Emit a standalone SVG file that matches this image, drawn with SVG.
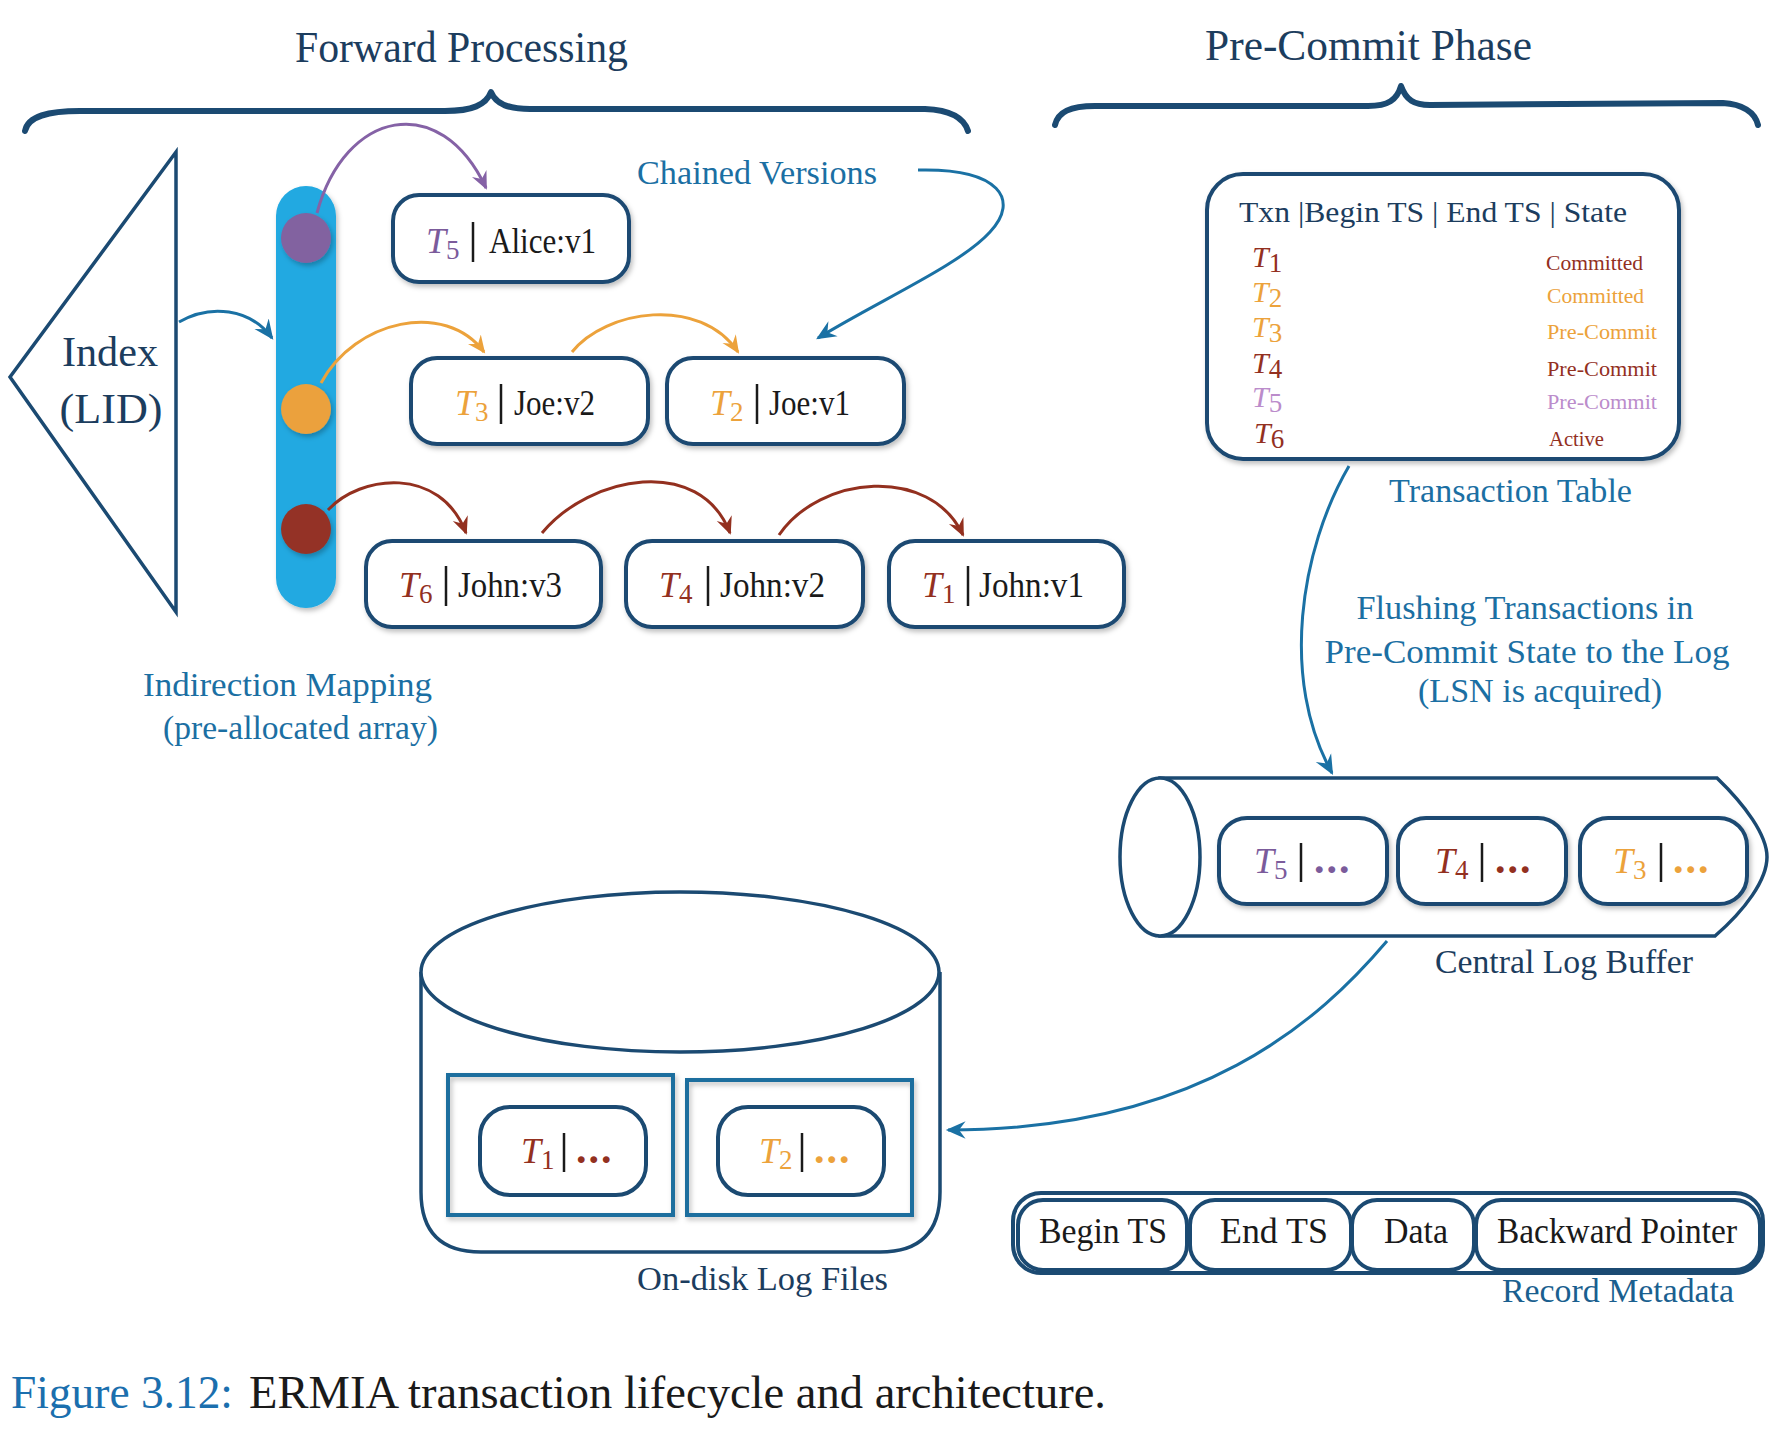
<svg xmlns="http://www.w3.org/2000/svg" width="1782" height="1432" viewBox="0 0 1782 1432">
<defs>
<style>
.serif{font-family:"Liberation Serif","DejaVu Serif",serif}
.box{fill:#fff;stroke:#1b4a72;stroke-width:4}
.thin{fill:#fff;stroke:#1b4a72;stroke-width:3.5}
.sq{fill:none;stroke:#1f6e9e;stroke-width:4}
.bar{stroke:#1a1a1a;stroke-width:2.5}
.lab{font-family:"Liberation Serif","DejaVu Serif",serif;font-size:35px;fill:#1a1a1a}
.ti{font-family:"Liberation Serif","DejaVu Serif",serif;font-size:36px;font-style:italic}
.sub{font-family:"Liberation Serif","DejaVu Serif",serif;font-size:27px}
.dots{font-family:"Liberation Serif","DejaVu Serif",serif;font-size:42px;font-weight:bold;letter-spacing:2px}
.teal{fill:#1b6fa3}
.navy{fill:#1c3d5e}
.title{font-family:"Liberation Serif","DejaVu Serif",serif;font-size:44px;fill:#1c3d5e}
.cap{font-family:"Liberation Serif","DejaVu Serif",serif;font-size:34px}
.brace{fill:none;stroke:#1b4a72;stroke-width:6;stroke-linecap:round;stroke-linejoin:round}
.conn{fill:none;stroke-width:3}
</style>
<filter id="sh" x="-20%" y="-20%" width="140%" height="150%"><feDropShadow dx="2" dy="3" stdDeviation="2.5" flood-color="#000" flood-opacity="0.25"/></filter>
<marker id="aP" viewBox="0 0 20 20" refX="16" refY="10" markerWidth="20" markerHeight="20" markerUnits="userSpaceOnUse" orient="auto"><path d="M0,2 L18,10 L0,18 L6,10 Z" fill="#8562a6"/></marker>
<marker id="aO" viewBox="0 0 20 20" refX="16" refY="10" markerWidth="20" markerHeight="20" markerUnits="userSpaceOnUse" orient="auto"><path d="M0,2 L18,10 L0,18 L6,10 Z" fill="#eca23b"/></marker>
<marker id="aR" viewBox="0 0 20 20" refX="16" refY="10" markerWidth="20" markerHeight="20" markerUnits="userSpaceOnUse" orient="auto"><path d="M0,2 L18,10 L0,18 L6,10 Z" fill="#93301f"/></marker>
<marker id="aB" viewBox="0 0 20 20" refX="16" refY="10" markerWidth="22" markerHeight="22" markerUnits="userSpaceOnUse" orient="auto"><path d="M0,2 L18,10 L0,18 L6,10 Z" fill="#1a71a4"/></marker>
</defs>
<rect width="1782" height="1432" fill="#fff"/>

<!-- Titles and braces -->
<g id="forward-processing">
<text class="title" x="295" y="62" textLength="333" lengthAdjust="spacingAndGlyphs">Forward Processing</text>
<path class="brace" d="M25,131 C28,116 48,111 80,111 L445,111 C472,111 486,105 491,92 C496,105 510,109 530,109 L925,109 C950,110 964,118 968,131"/>
</g>
<g id="pre-commit-phase">
<text class="title" x="1205" y="60" textLength="327" lengthAdjust="spacingAndGlyphs">Pre-Commit Phase</text>
<path class="brace" d="M1055,125 C1058,112 1070,106 1095,106 L1368,106 C1388,106 1397,100 1401,86 C1406,100 1414,105 1430,105 L1723,103 C1742,104 1755,112 1758,125"/>
</g>

<!-- Index -->
<g id="index">
<path d="M176,152 L176,612 L10,377 Z" fill="#fff" stroke="#1b4a72" stroke-width="3.5" stroke-linejoin="miter"/>
<text class="serif navy" x="110" y="366" font-size="42" text-anchor="middle" textLength="96" lengthAdjust="spacingAndGlyphs">Index</text>
<text class="serif navy" x="111" y="423" font-size="42" text-anchor="middle" textLength="103" lengthAdjust="spacingAndGlyphs">(LID)</text>
</g>

<!-- Indirection array -->
<g id="indirection-array">
<rect x="276" y="186" width="60" height="422" rx="30" fill="#22a9e1" filter="url(#sh)"/>
<circle cx="306" cy="238" r="25" fill="#8262a0" filter="url(#sh)"/>
<circle cx="306" cy="409" r="25" fill="#eba13d" filter="url(#sh)"/>
<circle cx="306" cy="529" r="25" fill="#943226" filter="url(#sh)"/>
</g>
<g id="indirection-label">
<text class="cap teal" x="143" y="696" textLength="289" lengthAdjust="spacingAndGlyphs">Indirection Mapping</text>
<text class="cap teal" x="163" y="739" textLength="275" lengthAdjust="spacingAndGlyphs">(pre-allocated array)</text>
</g>

<!-- Version boxes -->
<g id="v-alice">
<rect class="box" x="393" y="195" width="236" height="87" rx="26" filter="url(#sh)"/>
<text class="ti" x="426" y="253" fill="#7b5b9b">T<tspan class="sub" font-style="normal" dy="6">5</tspan></text>
<line class="bar" x1="473" y1="222" x2="473" y2="262"/>
<text class="lab" x="489" y="253" textLength="107" lengthAdjust="spacingAndGlyphs">Alice:v1</text>
</g>
<g id="v-joe2">
<rect class="box" x="411" y="358" width="237" height="86" rx="26" filter="url(#sh)"/>
<text class="ti" x="455" y="415" fill="#eca23b">T<tspan class="sub" font-style="normal" dy="6">3</tspan></text>
<line class="bar" x1="501" y1="384" x2="501" y2="424"/>
<text class="lab" x="514" y="415" textLength="81" lengthAdjust="spacingAndGlyphs">Joe:v2</text>
</g>
<g id="v-joe1">
<rect class="box" x="667" y="358" width="237" height="86" rx="26" filter="url(#sh)"/>
<text class="ti" x="710" y="415" fill="#eca23b">T<tspan class="sub" font-style="normal" dy="6">2</tspan></text>
<line class="bar" x1="757" y1="384" x2="757" y2="424"/>
<text class="lab" x="769" y="415" textLength="81" lengthAdjust="spacingAndGlyphs">Joe:v1</text>
</g>
<g id="v-john3">
<rect class="box" x="366" y="541" width="235" height="86" rx="26" filter="url(#sh)"/>
<text class="ti" x="399" y="597" fill="#93301f">T<tspan class="sub" font-style="normal" dy="6">6</tspan></text>
<line class="bar" x1="446" y1="566" x2="446" y2="606"/>
<text class="lab" x="458" y="597" textLength="104" lengthAdjust="spacingAndGlyphs">John:v3</text>
</g>
<g id="v-john2">
<rect class="box" x="626" y="541" width="237" height="86" rx="26" filter="url(#sh)"/>
<text class="ti" x="659" y="597" fill="#93301f">T<tspan class="sub" font-style="normal" dy="6">4</tspan></text>
<line class="bar" x1="708" y1="566" x2="708" y2="606"/>
<text class="lab" x="720" y="597" textLength="105" lengthAdjust="spacingAndGlyphs">John:v2</text>
</g>
<g id="v-john1">
<rect class="box" x="889" y="541" width="235" height="86" rx="26" filter="url(#sh)"/>
<text class="ti" x="922" y="597" fill="#93301f">T<tspan class="sub" font-style="normal" dy="6">1</tspan></text>
<line class="bar" x1="968" y1="566" x2="968" y2="606"/>
<text class="lab" x="979" y="597" textLength="105" lengthAdjust="spacingAndGlyphs">John:v1</text>
</g>

<g id="chained-label">
<text class="cap teal" x="637" y="184" textLength="240" lengthAdjust="spacingAndGlyphs">Chained Versions</text>
</g>

<!-- Transaction table -->
<g id="txn-table">
<rect class="box" x="1207" y="174" width="472" height="285" rx="36" filter="url(#sh)"/>
<text class="serif navy" x="1239" y="222" font-size="30" textLength="388" lengthAdjust="spacingAndGlyphs">Txn |Begin TS | End TS | State</text>
<g class="ti" font-size="30">
<text x="1252" y="267" fill="#93301f" font-size="30">T<tspan class="sub" font-style="normal" font-size="22" dy="5">1</tspan></text>
<text x="1252" y="302" fill="#eca23b" font-size="30">T<tspan class="sub" font-style="normal" font-size="22" dy="5">2</tspan></text>
<text x="1252" y="337" fill="#eca23b" font-size="30">T<tspan class="sub" font-style="normal" font-size="22" dy="5">3</tspan></text>
<text x="1252" y="373" fill="#93301f" font-size="30">T<tspan class="sub" font-style="normal" font-size="22" dy="5">4</tspan></text>
<text x="1252" y="407" fill="#bb8ccb" font-size="30">T<tspan class="sub" font-style="normal" font-size="22" dy="5">5</tspan></text>
<text x="1254" y="443" fill="#93301f" font-size="30">T<tspan class="sub" font-style="normal" font-size="22" dy="5">6</tspan></text>
</g>
<g class="serif" font-size="21">
<text x="1546" y="270" fill="#93301f" textLength="97" lengthAdjust="spacingAndGlyphs">Committed</text>
<text x="1547" y="303" fill="#eca23b" textLength="97" lengthAdjust="spacingAndGlyphs">Committed</text>
<text x="1547" y="339" fill="#eca23b" textLength="110" lengthAdjust="spacingAndGlyphs">Pre-Commit</text>
<text x="1547" y="376" fill="#93301f" textLength="110" lengthAdjust="spacingAndGlyphs">Pre-Commit</text>
<text x="1547" y="409" fill="#bb8ccb" textLength="110" lengthAdjust="spacingAndGlyphs">Pre-Commit</text>
<text x="1549" y="446" fill="#93301f" textLength="55" lengthAdjust="spacingAndGlyphs">Active</text>
</g>
</g>
<g id="txn-table-label">
<text class="cap teal" x="1389" y="502" textLength="243" lengthAdjust="spacingAndGlyphs">Transaction Table</text>
</g>
<g id="flush-label" class="cap teal" text-anchor="middle">
<text x="1525" y="619" textLength="337" lengthAdjust="spacingAndGlyphs">Flushing Transactions in</text>
<text x="1527" y="663" textLength="405" lengthAdjust="spacingAndGlyphs">Pre-Commit State to the Log</text>
<text x="1540" y="702" textLength="244" lengthAdjust="spacingAndGlyphs">(LSN is acquired)</text>
</g>

<!-- Central log buffer -->
<g id="log-buffer">
<path class="thin" d="M1160,778 L1717,778 C1745,805 1767,835 1767,857 C1767,880 1745,910 1715,936 L1160,936 Z"/>
<ellipse class="thin" cx="1160" cy="857" rx="40" ry="79"/>
<rect class="box" x="1219" y="818" width="168" height="86" rx="28" filter="url(#sh)"/>
<text class="ti" x="1254" y="873" fill="#7b5b9b">T<tspan class="sub" font-style="normal" dy="6">5</tspan></text>
<line class="bar" x1="1301" y1="843" x2="1301" y2="882"/>
<text class="dots" x="1314" y="873" fill="#7b5b9b">...</text>
<rect class="box" x="1398" y="818" width="168" height="86" rx="28" filter="url(#sh)"/>
<text class="ti" x="1435" y="873" fill="#93301f">T<tspan class="sub" font-style="normal" dy="6">4</tspan></text>
<line class="bar" x1="1482" y1="843" x2="1482" y2="882"/>
<text class="dots" x="1495" y="873" fill="#93301f">...</text>
<rect class="box" x="1580" y="818" width="167" height="86" rx="28" filter="url(#sh)"/>
<text class="ti" x="1613" y="873" fill="#eca23b">T<tspan class="sub" font-style="normal" dy="6">3</tspan></text>
<line class="bar" x1="1661" y1="843" x2="1661" y2="882"/>
<text class="dots" x="1673" y="873" fill="#eca23b">...</text>
</g>
<g id="log-buffer-label">
<text class="cap navy" x="1435" y="973" textLength="258" lengthAdjust="spacingAndGlyphs">Central Log Buffer</text>
</g>

<!-- Disk -->
<g id="disk">
<path class="thin" d="M421,972 L421,1192 Q421,1252 481,1252 L880,1252 Q940,1252 940,1192 L940,972"/>
<ellipse class="thin" cx="680" cy="972" rx="259" ry="80"/>
<rect class="sq" x="448" y="1075" width="225" height="140" filter="url(#sh)"/>
<rect class="sq" x="687" y="1080" width="225" height="135" filter="url(#sh)"/>
<rect class="box" x="480" y="1107" width="166" height="88" rx="30"/>
<text class="ti" x="521" y="1163" fill="#93301f">T<tspan class="sub" font-style="normal" dy="6">1</tspan></text>
<line class="bar" x1="564" y1="1133" x2="564" y2="1172"/>
<text class="dots" x="576" y="1163" fill="#93301f">...</text>
<rect class="box" x="718" y="1107" width="166" height="88" rx="30"/>
<text class="ti" x="759" y="1163" fill="#eca23b">T<tspan class="sub" font-style="normal" dy="6">2</tspan></text>
<line class="bar" x1="802" y1="1133" x2="802" y2="1172"/>
<text class="dots" x="814" y="1163" fill="#eca23b">...</text>
</g>
<g id="disk-label">
<text class="cap navy" x="637" y="1290" textLength="251" lengthAdjust="spacingAndGlyphs">On-disk Log Files</text>
</g>

<!-- Record metadata -->
<g id="record-metadata">
<rect class="box" x="1013" y="1193" width="750" height="80" rx="28" stroke-width="4.5"/>
<rect class="box" x="1018" y="1200" width="169" height="70" rx="25" stroke-width="3"/>
<rect class="box" x="1190" y="1200" width="161" height="70" rx="25" stroke-width="3"/>
<rect class="box" x="1352" y="1200" width="122" height="70" rx="25" stroke-width="3"/>
<rect class="box" x="1476" y="1200" width="284" height="70" rx="25" stroke-width="3"/>
<text class="lab" x="1039" y="1243" textLength="128" lengthAdjust="spacingAndGlyphs">Begin TS</text>
<text class="lab" x="1220" y="1243" textLength="108" lengthAdjust="spacingAndGlyphs">End TS</text>
<text class="lab" x="1384" y="1243" textLength="64" lengthAdjust="spacingAndGlyphs">Data</text>
<text class="lab" x="1497" y="1243" textLength="240" lengthAdjust="spacingAndGlyphs">Backward Pointer</text>
<text class="cap" x="1502" y="1302" fill="#1a5f8f" textLength="232" lengthAdjust="spacingAndGlyphs">Record Metadata</text>
</g>

<!-- Connectors -->
<g id="connectors">
<path class="conn" stroke="#1a71a4" stroke-width="2.5" d="M179,322 C210,304 250,308 272,338" marker-end="url(#aB)"/>
<path class="conn" stroke="#8562a6" d="M317,213 C345,110 440,90 486,188" marker-end="url(#aP)"/>
<path class="conn" stroke="#eca23b" d="M321,383 C355,320 445,300 484,352" marker-end="url(#aO)"/>
<path class="conn" stroke="#eca23b" d="M572,352 C605,310 700,295 738,352" marker-end="url(#aO)"/>
<path class="conn" stroke="#93301f" d="M328,510 C360,475 440,465 466,533" marker-end="url(#aR)"/>
<path class="conn" stroke="#93301f" d="M542,533 C590,475 700,455 730,533" marker-end="url(#aR)"/>
<path class="conn" stroke="#93301f" d="M779,535 C820,475 930,465 963,535" marker-end="url(#aR)"/>
<path class="conn" stroke="#1a71a4" d="M918,170 C1000,168 1020,200 990,232 C960,265 880,300 818,338" marker-end="url(#aB)"/>
<path class="conn" stroke="#1a71a4" stroke-width="2.5" d="M1349,466 C1300,550 1280,680 1332,773" marker-end="url(#aB)"/>
<path class="conn" stroke="#1a71a4" d="M1387,941 C1320,1020 1200,1130 948,1130" marker-end="url(#aB)"/>
</g>

<!-- Caption -->
<g id="caption">
<text class="serif" x="11" y="1408" font-size="46" fill="#1b6fae" textLength="222" lengthAdjust="spacingAndGlyphs">Figure 3.12:</text>
<text class="serif" x="249" y="1408" font-size="46" fill="#1a1a1a" textLength="857" lengthAdjust="spacingAndGlyphs">ERMIA transaction lifecycle and architecture.</text>
</g>
</svg>
